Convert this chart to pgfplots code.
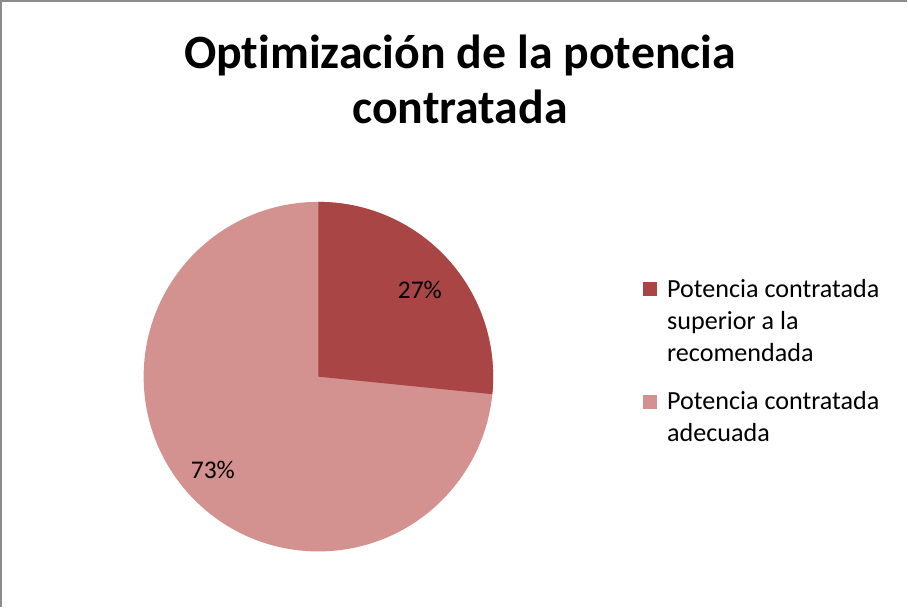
\documentclass[border=0pt]{standalone}
\usepackage{pgfplots}
\pgfplotsset{compat=1.18}
\usepackage{pgfplotstable}
\usepackage{fontspec}
\setmainfont{Carlito}[Ligatures=NoCommon]
\definecolor{sliceA}{HTML}{A94544}
\definecolor{sliceB}{HTML}{D39190}
\definecolor{frame}{HTML}{8C8C8C}
\pgfplotstableread{
label value
superior 26.6
adecuada 73.4
}\piedata
\begin{document}
\begin{tikzpicture}
\pgfplotstablegetelem{0}{value}\of\piedata
\pgfmathsetmacro{\valA}{\pgfplotsretval}
\pgfmathsetmacro{\endA}{90-3.6*\valA}
\begin{axis}[scale only axis, width=681pt, height=455.25pt,
  xmin=0, xmax=908, ymin=0, ymax=607, y dir=reverse,
  axis lines=none, clip=false]
% frame
\draw[frame, line width=1.5pt] (axis cs:6,607) -- (axis cs:6,4) -- (axis cs:908,4);
% pie: full circle in light, then the first slice in dark
\fill[sliceB] (axis cs:322,378) circle[radius=130.5pt];
\fill[sliceA] (axis cs:322,378) -- (axis cs:322,204) arc[start angle=90, end angle=\endA, radius=130.5pt] -- cycle;
% data labels
\node[font=\fontsize{19}{22}\selectfont] at (axis cs:423,292) {27\%};
\node[font=\fontsize{19}{22}\selectfont] at (axis cs:217,471) {73\%};
% title
\node[anchor=base, font=\fontsize{35.7}{42}\bfseries] at (axis cs:463,71) {Optimización de la potencia};
\node[anchor=base, font=\fontsize{35.7}{42}\bfseries] at (axis cs:463,126) {contratada};
% legend
\fill[sliceA] (axis cs:645,284) rectangle (axis cs:659,298);
\fill[sliceB] (axis cs:645,396) rectangle (axis cs:659,410);
\begin{scope}[every node/.style={anchor=base west, inner sep=0pt, font=\fontsize{19.5}{22}\selectfont}]
\node at (axis cs:669,299) {Potencia contratada};
\node at (axis cs:669,331) {superior a la};
\node at (axis cs:669,363) {recomendada};
\node at (axis cs:669,411) {Potencia contratada};
\node at (axis cs:669,443) {adecuada};
\end{scope}
\end{axis}
\end{tikzpicture}
\end{document}
